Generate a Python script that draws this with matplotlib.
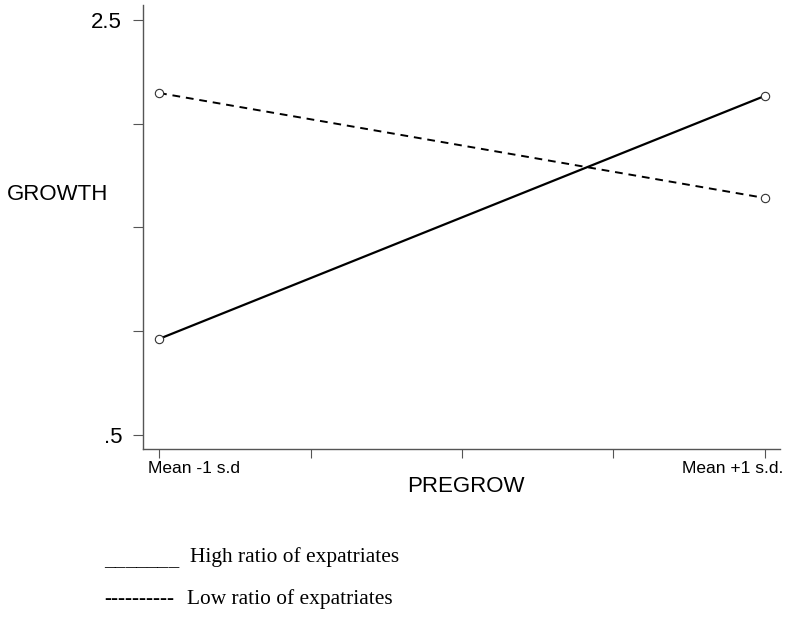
import numpy as np
import matplotlib as mpl
import matplotlib.pyplot as plt
import matplotlib.transforms as mtransforms

# Werte der Interaktion (GROWTH bei -1 / +1 Standardabweichung PREGROW)
x_pos = [-1.0, 1.0]
high_ratio = [0.963, 2.134]
low_ratio = [2.148, 1.642]

x_ticks = [-1.0, -0.5, 0.0, 0.5, 1.0]
x_ticklabels = ['Mean -1 s.d', '', '', '', 'Mean +1 s.d.']
y_ticks = [0.5, 1.0, 1.5, 2.0, 2.5]
y_ticklabels = ['.5', '', '', '', '2.5']

mpl.rcParams['font.family'] = ['Liberation Sans', 'DejaVu Sans']

fig = plt.figure(figsize=(7.92, 6.19), dpi=100)
ax = fig.add_axes([143 / 792, 1 - 449 / 619, 637 / 792, 444 / 619])

ax.plot(x_pos, high_ratio, color='black', lw=1.6, ls='-',
        marker='o', ms=6, mfc='white', mec='#333333', mew=0.8)
ax.plot(x_pos, low_ratio, color='black', lw=1.4, ls=(0, (4, 3)),
        marker='o', ms=6, mfc='white', mec='#333333', mew=0.8)

ax.set_xlim(-1.053, 1.05)
ax.set_ylim(0.4325, 2.572)

ax.set_yticks(y_ticks)
ax.set_yticklabels(y_ticklabels, fontsize=16)
ax.set_xticks(x_ticks)
ax.set_xticklabels(x_ticklabels, fontsize=12.5)

for side in ['top', 'right']:
    ax.spines[side].set_visible(False)
for side in ['left', 'bottom']:
    ax.spines[side].set_color('#555555')
    ax.spines[side].set_linewidth(1.0)

ax.tick_params(axis='y', length=7, width=0.8, color='#555555', pad=8)
ax.tick_params(axis='x', length=6.5, width=0.8, color='#555555', pad=2)

# Beschriftungen der x-Achse seitlich ausrichten
labels = ax.get_xticklabels()
labels[0].set_ha('left')
labels[0].set_transform(labels[0].get_transform() +
                        mtransforms.ScaledTranslation(-11 / 100, 0, fig.dpi_scale_trans))
labels[-1].set_ha('right')
labels[-1].set_transform(labels[-1].get_transform() +
                         mtransforms.ScaledTranslation(19 / 100, 0, fig.dpi_scale_trans))

fig.text(58 / 792, 1 - 195 / 619, 'GROWTH', fontsize=16, ha='center', va='center')
fig.text(466 / 792, 1 - 486 / 619, 'PREGROW', fontsize=16, ha='center', va='center')

# Legende als Text unter der Grafik
serif = ['Liberation Serif', 'DejaVu Serif']
fig.text(104 / 792, 1 - 565 / 619, '_______', family=serif, fontsize=15.4,
         ha='left', va='baseline')
fig.text(190 / 792, 1 - 562 / 619, 'High ratio of expatriates', family=serif,
         fontsize=15.4, ha='left', va='baseline')
fig.text(104 / 792, 1 - 604 / 619, '----------', family=serif, fontsize=15.4,
         ha='left', va='baseline')
fig.text(187 / 792, 1 - 604 / 619, 'Low ratio of expatriates', family=serif,
         fontsize=15.4, ha='left', va='baseline')

fig.savefig('out.png', dpi=100)
